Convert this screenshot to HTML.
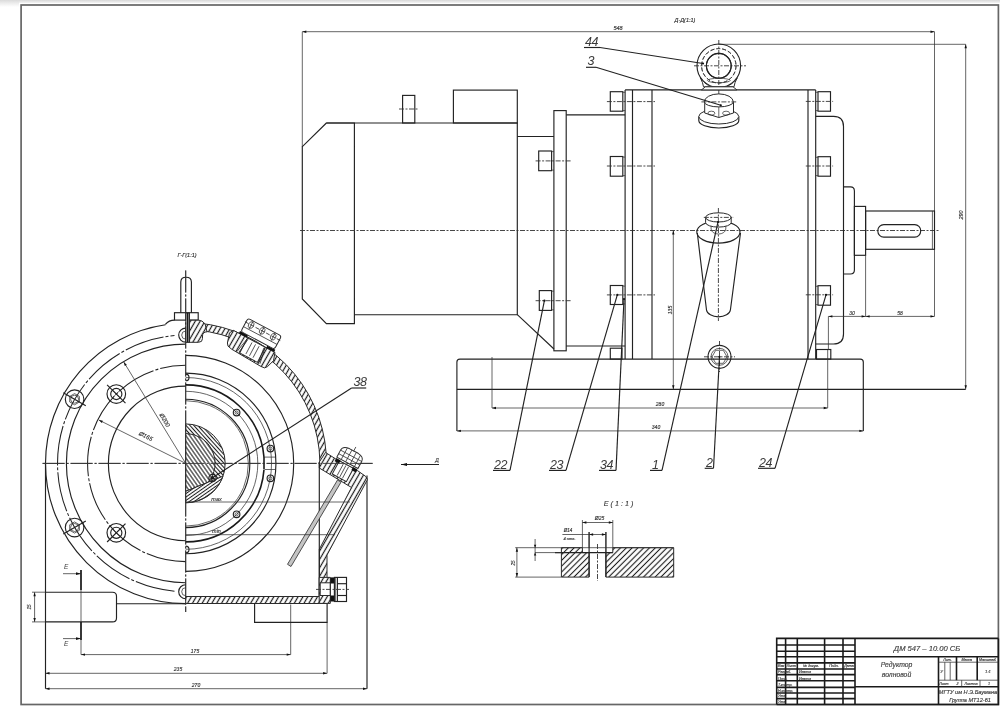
<!DOCTYPE html>
<html><head><meta charset="utf-8"><style>
html,body{margin:0;padding:0;background:#fff;overflow:hidden}
svg{display:block;will-change:transform}
.m{stroke:#222;stroke-width:1.15;fill:none}
.t{stroke:#333;stroke-width:0.75;fill:none}
.k{stroke:#1a1a1a;stroke-width:1.6;fill:none}
.c{stroke:#333;stroke-width:0.9;fill:none;stroke-dasharray:5 1.5 2 1.5}
.cl{stroke:#333;stroke-width:0.9;fill:none;stroke-dasharray:22 2 2 2}
.ca{stroke:#222;stroke-width:1.05;fill:none;stroke-dasharray:40 2 3 2}
.d{stroke:#333;stroke-width:0.8;fill:none;stroke-dasharray:4 2}
.w{stroke:#2a2a2a;stroke-width:1;fill:#fff}
.f{fill:#111;stroke:none}
.h{stroke:#2a2a2a;stroke-width:1;fill:url(#hp)}
.he{stroke:#2a2a2a;stroke-width:1;fill:url(#hpe)}
.h3{stroke:#2a2a2a;stroke-width:1;fill:url(#hp3)}
.h4{stroke:#2a2a2a;stroke-width:1;fill:url(#hp4)}
.h5{stroke:#2a2a2a;stroke-width:1;fill:url(#hp5)}
.fr{stroke:#666;stroke-width:1.7;fill:none}
text{font-family:"Liberation Sans",sans-serif;font-style:italic;fill:#333;stroke:#333;stroke-width:0.15}
.lb{fill:#3a3a3a;letter-spacing:-0.4px;stroke:none}
.tb{fill:#444}
.ts{fill:#444}
</style></head><body>
<svg width="1000" height="709" viewBox="0 0 1000 709">
<defs>
<linearGradient id="topg" x1="0" y1="0" x2="0" y2="1"><stop offset="0" stop-color="#d8d8d8"/><stop offset="1" stop-color="#f4f4f4"/></linearGradient>
<pattern id="hp" patternUnits="userSpaceOnUse" width="4.2" height="4.2" patternTransform="rotate(30)"><rect width="4.2" height="4.2" fill="#fff"/><line x1="2.1" y1="0" x2="2.1" y2="4.2" stroke="#1a1a1a" stroke-width="1.2"/></pattern>
<pattern id="hp3" patternUnits="userSpaceOnUse" width="2.9" height="2.9" patternTransform="rotate(-42)"><rect width="2.9" height="2.9" fill="#fff"/><line x1="1.45" y1="0" x2="1.45" y2="2.9" stroke="#1a1a1a" stroke-width="1.05"/></pattern>
<pattern id="hp4" patternUnits="userSpaceOnUse" width="3.2" height="3.2" patternTransform="rotate(-35)"><rect width="3.2" height="3.2" fill="#fff"/><line x1="1.6" y1="0" x2="1.6" y2="3.2" stroke="#1a1a1a" stroke-width="1.05"/></pattern>
<pattern id="hp5" patternUnits="userSpaceOnUse" width="2.8" height="2.8" patternTransform="rotate(55)"><rect width="2.8" height="2.8" fill="#fff"/><line x1="1.4" y1="0" x2="1.4" y2="2.8" stroke="#1a1a1a" stroke-width="1.0"/></pattern>
<pattern id="hpe" patternUnits="userSpaceOnUse" width="4.1" height="4.1" patternTransform="rotate(45)"><rect width="4.1" height="4.1" fill="#fff"/><line x1="2.05" y1="0" x2="2.05" y2="4.1" stroke="#1a1a1a" stroke-width="1.1"/></pattern>
<linearGradient id="topg2" x1="0" y1="0" x2="0" y2="1"><stop offset="0" stop-color="#dadada"/><stop offset="0.5" stop-color="#eeeeee"/><stop offset="1" stop-color="#ffffff"/></linearGradient>
</defs>
<rect x="0" y="0" width="1000" height="3" fill="url(#topg)" stroke="none"/>
<rect x="0" y="0" width="19" height="7" fill="url(#topg2)" stroke="none"/>
<rect class="fr" x="21.1" y="5" width="977.3" height="699.5"/>
<line class="t" x1="302.3" y1="31.7" x2="934.5" y2="31.7"/>
<path class="f" d="M302.3,31.7 L306.3,30.5 L306.3,32.9Z"/>
<path class="f" d="M934.5,31.7 L930.5,32.9 L930.5,30.5Z"/>
<line class="t" x1="302.3" y1="31.7" x2="302.3" y2="147.0"/>
<line class="t" x1="934.5" y1="31.7" x2="934.5" y2="316.4"/>
<text class="tx" x="618" y="29.5" font-size="5.5" text-anchor="middle">548</text>
<text class="tx" x="685" y="22" font-size="5.5" text-anchor="middle">Д-Д(1:1)</text>
<line class="t" x1="719.0" y1="44.3" x2="965.7" y2="44.3"/>
<line class="t" x1="965.7" y1="44.3" x2="965.7" y2="389.3"/>
<path class="f" d="M965.7,44.3 L966.9,48.3 L964.5,48.3Z"/>
<path class="f" d="M965.7,389.3 L964.5,385.3 L966.9,385.3Z"/>
<text class="tx" x="963" y="215" font-size="5.5" text-anchor="middle" transform="rotate(-90 963 215)">290</text>
<path class="m" d="M326.4,123 L302.3,146.7 L302.3,299 L326.4,323.6 L354.4,323.6 L354.4,123 Z"/>
<path class="m" d="M326.4,123 H517.3 V314.7 H354.4"/>
<rect class="m" x="402.6" y="95.4" width="12.2" height="27.6" rx="0"/>
<line class="c" x1="399.0" y1="109.0" x2="418.0" y2="109.0"/>
<rect class="m" x="453.4" y="90.1" width="63.9" height="32.9" rx="0"/>
<line class="m" x1="517.3" y1="136.5" x2="553.9" y2="136.5"/>
<line class="m" x1="517.3" y1="314.7" x2="554.0" y2="349.0"/>
<rect class="m" x="553.9" y="110.6" width="12.3" height="240.2" rx="0"/>
<line class="m" x1="566.2" y1="114.8" x2="625.1" y2="114.8"/>
<line class="m" x1="566.2" y1="346.0" x2="625.1" y2="346.0"/>
<line class="c" x1="300.0" y1="230.5" x2="940.0" y2="230.5"/>
<line class="m" x1="625.1" y1="89.9" x2="815.7" y2="89.9"/>
<line class="m" x1="625.1" y1="89.9" x2="625.1" y2="359.1"/>
<line class="m" x1="632.5" y1="89.9" x2="632.5" y2="359.1"/>
<line class="m" x1="652.0" y1="89.9" x2="652.0" y2="359.1"/>
<line class="m" x1="808.0" y1="89.9" x2="808.0" y2="359.1"/>
<line class="m" x1="815.7" y1="89.9" x2="815.7" y2="359.1"/>
<path class="m" d="M815.7,116.4 H833.5 Q843.5,116.4 843.5,126.4 V334 Q843.5,344 833.5,344 H815.7"/>
<path class="m" d="M843.5,186.9 H850.4 Q854.4,186.9 854.4,190.9 V270 Q854.4,274 850.4,274 H843.5"/>
<rect class="m" x="854.4" y="206.4" width="11.2" height="48.9" rx="0"/>
<rect class="m" x="865.6" y="211.0" width="68.9" height="38.3" rx="0"/>
<line class="t" x1="932.4" y1="211.0" x2="932.4" y2="249.3"/>
<rect class="m" x="877.8" y="224.6" width="42.9" height="12.5" rx="6"/>
<rect class="m" x="610.3" y="91.7" width="12.5" height="19.5" rx="0"/>
<line class="t" x1="622.8" y1="92.3" x2="625.1" y2="92.3"/>
<line class="t" x1="622.8" y1="110.6" x2="625.1" y2="110.6"/>
<line class="c" x1="606.9" y1="101.6" x2="655.0" y2="101.6"/>
<rect class="m" x="610.3" y="156.5" width="12.5" height="19.7" rx="0"/>
<line class="t" x1="622.8" y1="157.1" x2="625.1" y2="157.1"/>
<line class="t" x1="622.8" y1="175.6" x2="625.1" y2="175.6"/>
<line class="c" x1="606.9" y1="166.0" x2="655.0" y2="166.0"/>
<rect class="m" x="610.3" y="285.5" width="12.5" height="19.0" rx="0"/>
<line class="t" x1="622.8" y1="286.1" x2="625.1" y2="286.1"/>
<line class="t" x1="622.8" y1="303.9" x2="625.1" y2="303.9"/>
<line class="c" x1="606.9" y1="294.9" x2="655.0" y2="294.9"/>
<rect class="m" x="538.7" y="151.0" width="12.9" height="19.7" rx="0"/>
<line class="t" x1="551.6" y1="151.6" x2="553.9" y2="151.6"/>
<line class="t" x1="551.6" y1="170.1" x2="553.9" y2="170.1"/>
<line class="c" x1="535.6" y1="160.9" x2="570.8" y2="160.9"/>
<rect class="m" x="539.3" y="290.6" width="12.3" height="19.8" rx="0"/>
<line class="t" x1="551.6" y1="291.2" x2="553.9" y2="291.2"/>
<line class="t" x1="551.6" y1="309.8" x2="553.9" y2="309.8"/>
<line class="c" x1="535.6" y1="300.7" x2="570.8" y2="300.7"/>
<rect class="m" x="818.0" y="91.7" width="12.5" height="19.5" rx="0"/>
<line class="t" x1="815.7" y1="92.3" x2="818.0" y2="92.3"/>
<line class="t" x1="815.7" y1="110.6" x2="818.0" y2="110.6"/>
<line class="c" x1="805.8" y1="101.4" x2="833.1" y2="101.4"/>
<rect class="m" x="818.0" y="156.7" width="12.5" height="19.5" rx="0"/>
<line class="t" x1="815.7" y1="157.3" x2="818.0" y2="157.3"/>
<line class="t" x1="815.7" y1="175.6" x2="818.0" y2="175.6"/>
<line class="c" x1="805.8" y1="166.0" x2="833.1" y2="166.0"/>
<rect class="m" x="818.0" y="285.7" width="12.5" height="19.5" rx="0"/>
<line class="t" x1="815.7" y1="286.3" x2="818.0" y2="286.3"/>
<line class="t" x1="815.7" y1="304.6" x2="818.0" y2="304.6"/>
<line class="c" x1="805.8" y1="294.8" x2="833.1" y2="294.8"/>
<rect class="m" x="610.3" y="348.2" width="11.7" height="10.9" rx="0"/>
<rect class="m" x="816.5" y="349.5" width="14.3" height="9.6" rx="0"/>
<path class="m" d="M456.9,431 V362.1 Q456.9,359.1 459.9,359.1 H860.3 Q863.3,359.1 863.3,362.1 V431"/>
<line class="m" x1="456.9" y1="389.3" x2="965.7" y2="389.3"/>
<line class="t" x1="492.0" y1="408.0" x2="827.7" y2="408.0"/>
<path class="f" d="M492.0,408.0 L496.0,406.8 L496.0,409.2Z"/>
<path class="f" d="M827.7,408.0 L823.7,409.2 L823.7,406.8Z"/>
<line class="t" x1="492.0" y1="357.0" x2="492.0" y2="408.0"/>
<line class="t" x1="827.7" y1="350.0" x2="827.7" y2="408.0"/>
<text class="tx" x="660" y="406" font-size="5" text-anchor="middle">280</text>
<line class="t" x1="456.9" y1="430.9" x2="863.3" y2="430.9"/>
<path class="f" d="M456.9,430.9 L460.9,429.7 L460.9,432.1Z"/>
<path class="f" d="M863.3,430.9 L859.3,432.1 L859.3,429.7Z"/>
<text class="tx" x="656" y="428.5" font-size="5" text-anchor="middle">340</text>
<line class="t" x1="673.3" y1="230.5" x2="673.3" y2="389.3"/>
<path class="f" d="M673.3,230.5 L674.5,234.5 L672.1,234.5Z"/>
<path class="f" d="M673.3,389.3 L672.1,385.3 L674.5,385.3Z"/>
<text class="tx" x="671.5" y="310" font-size="5" text-anchor="middle" transform="rotate(-90 671.5 310)">135</text>
<line class="t" x1="828.4" y1="316.4" x2="934.5" y2="316.4"/>
<path class="f" d="M828.4,316.4 L832.4,315.2 L832.4,317.6Z"/>
<path class="f" d="M865.6,316.4 L861.6,317.6 L861.6,315.2Z"/>
<path class="f" d="M865.6,316.4 L869.6,315.2 L869.6,317.6Z"/>
<path class="f" d="M934.5,316.4 L930.5,317.6 L930.5,315.2Z"/>
<line class="t" x1="865.6" y1="255.3" x2="865.6" y2="316.4"/>
<line class="t" x1="828.4" y1="316.4" x2="828.4" y2="350.0"/>
<text class="tx" x="852" y="314.5" font-size="5" text-anchor="middle">30</text>
<text class="tx" x="900" y="314.5" font-size="5" text-anchor="middle">58</text>
<circle class="m" cx="718.8" cy="65.8" r="21.8"/>
<circle class="m" cx="718.8" cy="65.8" r="12.4"/>
<circle class="d" cx="718.8" cy="65.8" r="17.2"/>
<line class="c" x1="718.8" y1="40.0" x2="718.8" y2="112.0"/>
<line class="c" x1="694.0" y1="65.8" x2="746.0" y2="65.8"/>
<path class="w" d="M700.5,78 Q703,83 703.5,86.8 H734 Q734.5,83 737.1,78 A21.75,21.75 0 0 1 700.5,78 Z"/>
<circle class="m" cx="718.8" cy="65.8" r="12.4"/>
<circle class="d" cx="718.8" cy="65.8" r="17.2"/>
<ellipse class="t" cx="718.8" cy="80.5" rx="11.4" ry="2.2"/>
<path class="w" d="M701.4,89.9 L705.5,86.8 H733 L736.9,89.9 Z"/>
<path class="m" d="M698.8,116.5 V120.5 A20,7.5 0 0 0 738.8,120.5 V116.5"/>
<ellipse class="w" cx="718.8" cy="116.5" rx="20.0" ry="7.5"/>
<path class="w" d="M704.7,101.9 V113 L718.8,117.5 L733.5,113 V101.9"/>
<line class="t" x1="718.8" y1="104.0" x2="718.8" y2="117.5"/>
<ellipse class="t" cx="711.4" cy="113.2" rx="3.5" ry="2.0"/>
<ellipse class="t" cx="726.1" cy="113.2" rx="3.5" ry="2.0"/>
<path class="w" d="M704.3,101.9 A14.5,8 0 0 1 733.3,101.9 A14.5,5 0 0 1 704.3,101.9 Z"/>
<line class="c" x1="701.4" y1="101.9" x2="736.2" y2="101.9"/>
<path class="m" d="M697.3,233 L706.5,310 A12,7.5 0 0 0 730.4,310 L740.5,233"/>
<ellipse class="m" cx="718.4" cy="232.1" rx="21.6" ry="11.0"/>
<path class="t" d="M711.1,224 V229 A7.3,5 0 0 0 725.8,229 V224"/>
<path class="w" d="M705.6,217.4 V222.5 A12.8,4.6 0 0 0 731.2,222.5 V217.4"/>
<ellipse class="w" cx="718.4" cy="217.4" rx="12.8" ry="4.6"/>
<line class="c" x1="718.4" y1="208.0" x2="718.4" y2="321.0"/>
<line class="c" x1="703.8" y1="217.4" x2="734.0" y2="217.4"/>
<circle class="m" cx="719.5" cy="356.8" r="11.5"/>
<circle class="t" cx="719.5" cy="356.8" r="8.5"/>
<path class="t" d="M712,356.8 L715.7,350.3 H723.3 L727,356.8 L723.3,363.3 H715.7 Z"/>
<line class="c" x1="704.0" y1="356.8" x2="735.0" y2="356.8"/>
<line class="c" x1="719.5" y1="341.0" x2="719.5" y2="372.0"/>
<text class="lb" x="585" y="45.5" font-size="12.5" text-anchor="start">44</text>
<line class="m" x1="584.0" y1="47.5" x2="600.0" y2="47.5"/>
<line class="m" x1="600.0" y1="47.5" x2="703.0" y2="63.5"/>
<circle class="f" cx="703.0" cy="63.5" r="1.1"/>
<text class="lb" x="587.5" y="65" font-size="12.5" text-anchor="start">3</text>
<line class="m" x1="586.0" y1="67.3" x2="596.0" y2="67.3"/>
<line class="m" x1="596.0" y1="67.3" x2="720.8" y2="105.3"/>
<circle class="f" cx="720.8" cy="105.3" r="1.1"/>
<text class="lb" x="494" y="468.5" font-size="12.5" text-anchor="start">22</text>
<line class="m" x1="493.0" y1="470.4" x2="510.0" y2="470.4"/>
<line class="m" x1="510.0" y1="470.4" x2="544.4" y2="300.7"/>
<circle class="f" cx="544.4" cy="300.7" r="1.1"/>
<text class="lb" x="550" y="468.5" font-size="12.5" text-anchor="start">23</text>
<line class="m" x1="549.0" y1="470.4" x2="566.0" y2="470.4"/>
<line class="m" x1="566.0" y1="470.4" x2="617.3" y2="294.9"/>
<circle class="f" cx="617.3" cy="294.9" r="1.1"/>
<text class="lb" x="600" y="468.5" font-size="12.5" text-anchor="start">34</text>
<line class="m" x1="599.0" y1="470.4" x2="616.0" y2="470.4"/>
<line class="m" x1="616.0" y1="470.4" x2="624.0" y2="299.0"/>
<circle class="f" cx="624.0" cy="299.0" r="1.1"/>
<text class="lb" x="652" y="468.5" font-size="12.5" text-anchor="start">1</text>
<line class="m" x1="650.0" y1="470.4" x2="662.0" y2="470.4"/>
<line class="m" x1="662.0" y1="470.4" x2="718.0" y2="222.0"/>
<circle class="f" cx="718.0" cy="222.0" r="1.1"/>
<text class="lb" x="706" y="467" font-size="12.5" text-anchor="start">2</text>
<line class="m" x1="704.7" y1="468.3" x2="713.5" y2="468.3"/>
<line class="m" x1="713.5" y1="468.3" x2="719.5" y2="356.8"/>
<circle class="f" cx="719.5" cy="356.8" r="1.1"/>
<text class="lb" x="759" y="467" font-size="12.5" text-anchor="start">24</text>
<line class="m" x1="758.0" y1="468.3" x2="775.0" y2="468.3"/>
<line class="m" x1="775.0" y1="468.3" x2="826.0" y2="294.8"/>
<circle class="f" cx="826.0" cy="294.8" r="1.1"/>
<line class="m" x1="401.0" y1="464.5" x2="439.0" y2="464.5"/>
<path class="f" d="M401.0,464.5 L407.0,462.9 L407.0,466.1Z"/>
<text class="tx" x="437" y="461.5" font-size="5" text-anchor="middle">Д</text>
<text class="tx" x="187" y="256.5" font-size="5.5" text-anchor="middle">Г-Г(1:1)</text>
<line class="cl" x1="185.7" y1="270.5" x2="185.7" y2="612.0"/>
<line class="cl" x1="42.6" y1="463.4" x2="374.0" y2="463.4"/>
<path class="m" d="M180.8,312.7 V282 Q180.8,277.2 186,277.2 Q191.4,277.2 191.4,282 V312.7"/>
<rect class="m" x="174.5" y="312.7" width="23.7" height="7.4" rx="0"/>
<path class="m" d="M45.5,463.4 A140.2,140.2 0 0 1 165.5,324.7"/>
<path class="m" d="M185.7,603.6 A140.2,140.2 0 0 1 45.5,463.4"/>
<path class="ca" d="M174.5,591.2 A128.3,128.3 0 0 1 174.5,335.6"/>
<path class="m" d="M185.7,582.7 A119.3,119.3 0 0 1 185.7,344.1"/>
<path class="ca" d="M185.7,561.6 A98.2,98.2 0 0 1 185.7,365.2"/>
<path class="m" d="M185.7,540.7 A77.3,77.3 0 0 1 185.7,386.1"/>
<path class="m" d="M165.4,324.3 Q169,320.1 174.5,320.1"/>
<line class="m" x1="45.5" y1="463.4" x2="45.5" y2="688.7"/>
<circle class="m" cx="74.6" cy="399.2" r="9.3"/>
<path class="t" d="M69.7,396.4 L74.6,393.6 L79.4,396.4 L79.4,402.0 L74.6,404.8 L69.7,402.0 Z"/>
<circle class="t" cx="74.6" cy="399.2" r="4.0"/>
<line class="m" x1="63.3" y1="392.7" x2="85.8" y2="405.7"/>
<circle class="m" cx="74.6" cy="527.5" r="9.3"/>
<path class="t" d="M69.7,530.3 L69.7,524.8 L74.6,521.9 L79.4,524.8 L79.4,530.3 L74.6,533.1 Z"/>
<circle class="t" cx="74.6" cy="527.5" r="4.0"/>
<line class="m" x1="63.3" y1="534.0" x2="85.8" y2="521.0"/>
<circle class="m" cx="116.3" cy="394.0" r="9.3"/>
<circle class="m" cx="116.3" cy="394.0" r="5.6"/>
<line class="t" x1="112.4" y1="390.1" x2="120.2" y2="397.9"/>
<line class="t" x1="112.4" y1="397.9" x2="120.2" y2="390.1"/>
<line class="m" x1="107.1" y1="384.8" x2="125.5" y2="403.2"/>
<circle class="m" cx="116.3" cy="532.8" r="9.3"/>
<circle class="m" cx="116.3" cy="532.8" r="5.6"/>
<line class="t" x1="112.4" y1="528.9" x2="120.2" y2="536.7"/>
<line class="t" x1="112.4" y1="536.7" x2="120.2" y2="528.9"/>
<line class="m" x1="107.1" y1="542.0" x2="125.5" y2="523.6"/>
<path class="m" d="M185.7,328.09999999999997 A7,7 0 0 0 185.7,342.09999999999997"/>
<path class="t" d="M185.7,331.09999999999997 A4,4 0 0 0 185.7,339.09999999999997"/>
<path class="m" d="M185.7,584.7 A7,7 0 0 0 185.7,598.7"/>
<path class="t" d="M185.7,587.7 A4,4 0 0 0 185.7,595.7"/>
<line class="t" x1="185.7" y1="463.4" x2="123.7" y2="361.9"/>
<path class="f" d="M123.7,361.9 L126.8,364.7 L124.8,365.9Z"/>
<text class="tx" x="163" y="421" font-size="6" text-anchor="middle" transform="rotate(60 163 421)">Ø200</text>
<line class="t" x1="185.7" y1="463.4" x2="98.8" y2="420.0"/>
<path class="f" d="M98.8,420.0 L102.9,420.7 L101.8,422.9Z"/>
<text class="tx" x="145" y="438" font-size="6" text-anchor="middle" transform="rotate(27 145 438)">Ø165</text>
<path class="m" d="M45.5,592.2 H112.5 Q116.5,592.2 116.5,596.2 V617.9 Q116.5,621.9 112.5,621.9 H45.5"/>
<path class="m" d="M116.5,603.7 H186"/>
<line class="t" x1="34.6" y1="592.2" x2="34.6" y2="621.9"/>
<path class="f" d="M34.6,592.2 L35.8,596.2 L33.4,596.2Z"/>
<path class="f" d="M34.6,621.9 L33.4,617.9 L35.8,617.9Z"/>
<line class="t" x1="32.0" y1="592.2" x2="45.5" y2="592.2"/>
<line class="t" x1="32.0" y1="621.9" x2="45.5" y2="621.9"/>
<text class="tx" x="31" y="607" font-size="4.5" text-anchor="middle" transform="rotate(-90 31 607)">15</text>
<line class="t" x1="81.0" y1="570.0" x2="81.0" y2="654.6"/>
<path class="k" d="M81,570 V590"/>
<path class="k" d="M81,622 V640"/>
<line class="t" x1="63.0" y1="573.7" x2="81.0" y2="573.7"/>
<path class="f" d="M81.0,573.7 L76.0,575.1 L76.0,572.3Z"/>
<line class="t" x1="63.0" y1="638.6" x2="81.0" y2="638.6"/>
<path class="f" d="M81.0,638.6 L76.0,640.0 L76.0,637.2Z"/>
<text class="lb" x="66" y="569" font-size="6.5" text-anchor="middle">E</text>
<text class="lb" x="66" y="646" font-size="6.5" text-anchor="middle">E</text>
<line class="t" x1="81.0" y1="654.6" x2="290.7" y2="654.6"/>
<path class="f" d="M81.0,654.6 L85.0,653.4 L85.0,655.8Z"/>
<path class="f" d="M290.7,654.6 L286.7,655.8 L286.7,653.4Z"/>
<line class="t" x1="290.7" y1="604.5" x2="290.7" y2="654.6"/>
<text class="tx" x="195" y="652.5" font-size="5" text-anchor="middle">175</text>
<line class="t" x1="45.5" y1="673.3" x2="327.1" y2="673.3"/>
<path class="f" d="M45.5,673.3 L49.5,672.1 L49.5,674.5Z"/>
<path class="f" d="M327.1,673.3 L323.1,674.5 L323.1,672.1Z"/>
<text class="tx" x="178" y="671" font-size="5" text-anchor="middle">235</text>
<line class="t" x1="45.5" y1="688.7" x2="367.0" y2="688.7"/>
<path class="f" d="M45.5,688.7 L49.5,687.5 L49.5,689.9Z"/>
<path class="f" d="M367.0,688.7 L363.0,689.9 L363.0,687.5Z"/>
<text class="tx" x="196" y="686.5" font-size="5" text-anchor="middle">270</text>
<line class="t" x1="327.1" y1="622.4" x2="327.1" y2="673.3"/>
<line class="m" x1="367.0" y1="475.5" x2="367.0" y2="688.7"/>
<path class="h" d="M198.0,323.1 A140.8,140.8 0 0 1 326.2,453.6 L319.9,461.9 A134.2,134.2 0 0 0 197.4,330.3 Z"/>
<path class="h" d="M325.5,452.5 L335.4,458.7 L357.4,470.5 L365.8,476.5 L367.5,479.5 L327,555 L327,597 L319.3,597 L319.3,549.3 L351.5,487.5 L319.3,468 L319.3,462 Z"/>
<line class="m" x1="319.3" y1="462.0" x2="319.3" y2="597.0"/>
<g transform="translate(346.4,464.6) rotate(28.2)">
<rect class="w" x="-8" y="0" width="16" height="15"/>
<line class="t" x1="-3.0" y1="1.0" x2="-3.0" y2="14.0"/>
<line class="t" x1="3.0" y1="1.0" x2="3.0" y2="14.0"/>
<line class="t" x1="0.0" y1="1.0" x2="0.0" y2="14.0"/>
<rect x="-12" y="-1" width="5" height="3.5" fill="#111"/><rect x="7" y="-1" width="5" height="3.5" fill="#111"/>
<path class="w" d="M-12,-2 V-10 Q-12,-15 -5,-15.5 H5 Q12,-15 12,-10 V-2 Z"/>
<path class="t" d="M-12,-6 H12 M-12,-10 H12 M-7,-15 V-2 M-2,-15.5 V-2 M3,-15.5 V-2 M8,-15 V-2"/>
<line class="t" x1="0.0" y1="-20.0" x2="0.0" y2="-15.0"/>
</g>
<path d="M337.5,480 L341,482.2 L291,566.5 L287.5,564.3 Z" fill="#c4c4c4" stroke="#2a2a2a" stroke-width="0.8"/>
<path class="h" d="M186,320.2 H199 Q202,320.2 205,323.8 L207,331.8 Q202.5,332 202.5,336 V338.5 Q202.5,342.3 198.5,342.3 H186 Z"/>
<rect class="w" x="186" y="313" width="3.5" height="29.3"/>
<line class="k" x1="187.8" y1="313.0" x2="187.8" y2="342.0"/>
<path class="h" d="M237.1,332.3 L233.5,330.4 L229.5,332.8 L227.4,343.0 L228.0,346.1 L231.5,349.1 L260.8,366.4 L264.6,367.9 L267.5,366.6 L273.5,360.7 L275.0,352.5 Z"/>
<g transform="translate(256.5,342.6) rotate(28)">
<rect class="w" x="-10" y="0" width="20" height="17"/>
<line class="t" x1="-4.0" y1="2.0" x2="-4.0" y2="15.0"/>
<line class="t" x1="0.0" y1="2.0" x2="0.0" y2="15.0"/>
<line class="t" x1="4.0" y1="2.0" x2="4.0" y2="15.0"/>
<path d="M-10,1 L-13,17 M10,1 L13,17 M-9,1 L-11,17 M9,1 L11,17" stroke="#222" stroke-width="0.7"/>
<rect x="-20" y="-2.5" width="9" height="2.5" fill="#111"/><rect x="11" y="-2.5" width="9" height="2.5" fill="#111"/>
<rect class="w" x="-19" y="-17.5" width="38" height="15" rx="2.5"/>
<line class="t" x1="-19.0" y1="-8.0" x2="19.0" y2="-8.0"/>
<ellipse class="t" cx="-13.0" cy="-13.0" rx="2.6" ry="3.4"/>
<line class="t" x1="-13.0" y1="-17.5" x2="-13.0" y2="-8.5"/>
<ellipse class="t" cx="-0.5" cy="-13.0" rx="2.6" ry="3.4"/>
<line class="t" x1="-0.5" y1="-17.5" x2="-0.5" y2="-8.5"/>
<ellipse class="t" cx="12.0" cy="-13.0" rx="2.6" ry="3.4"/>
<line class="t" x1="12.0" y1="-17.5" x2="12.0" y2="-8.5"/>
<line class="d" x1="-20.0" y1="-13.0" x2="20.0" y2="-13.0"/>
</g>
<path class="m" d="M185.7,355.4 A108,108 0 0 1 185.7,571.4"/>
<path class="m" d="M185.7,373.1 A90.3,90.3 0 0 1 185.7,553.7"/>
<path class="t" d="M185.7,377.5 A85.9,85.9 0 0 1 185.7,549.3"/>
<path class="k" d="M185.7,384.9 A78.5,78.5 0 0 1 264.0,457.2"/>
<path class="k" d="M264.0,469.6 A78.5,78.5 0 0 1 185.7,541.9"/>
<line class="k" x1="264.0" y1="457.0" x2="264.0" y2="469.0"/>
<path class="t" d="M185.7,391.3 A72.1,72.1 0 0 1 185.7,535.5"/>
<path class="m" d="M185.7,399.2 A64.2,64.2 0 0 1 185.7,527.6"/>
<path class="t" d="M185.7,400.7 A62.7,62.7 0 0 1 185.7,526.1"/>
<circle class="m" cx="236.6" cy="412.5" r="3.3"/>
<circle class="t" cx="236.6" cy="412.5" r="1.6"/>
<circle class="m" cx="236.6" cy="514.3" r="3.3"/>
<circle class="t" cx="236.6" cy="514.3" r="1.6"/>
<circle class="m" cx="270.4" cy="448.5" r="3.3"/>
<circle class="t" cx="270.4" cy="448.5" r="1.6"/>
<circle class="m" cx="270.4" cy="478.3" r="3.3"/>
<circle class="t" cx="270.4" cy="478.3" r="1.6"/>
<path class="m" d="M185.7,374.09999999999997 A3.3,3.3 0 0 1 185.7,380.7"/>
<path class="m" d="M185.7,546.1 A3.3,3.3 0 0 1 185.7,552.6999999999999"/>
<line class="t" x1="264.5" y1="457.1" x2="275.5" y2="457.1"/>
<line class="t" x1="264.5" y1="469.5" x2="275.5" y2="469.5"/>
<path class="h3" d="M185.7,423.9 A39.5,39.5 0 0 1 185.7,502.9 Z"/>
<path class="h4" d="M185.7,433.5 A29.5,29.5 0 0 1 208,482.3 L185.7,491.3 Z"/>
<path class="h5" d="M185.7,491.3 L222.9,476.2 A39.5,39.5 0 0 1 185.7,502.5 Z"/>
<line class="t" x1="186.0" y1="502.0" x2="350.0" y2="502.0"/>
<line class="t" x1="186.0" y1="534.7" x2="335.0" y2="534.7"/>
<text class="tx" x="216.5" y="500.5" font-size="5.5" text-anchor="middle">max</text>
<text class="tx" x="216.5" y="532.8" font-size="5.5" text-anchor="middle">min</text>
<path class="h" d="M185.7,596.5 H327 V603.5 H185.7 Z"/>
<path class="m" d="M254.6,603.5 V622.4 H327.1 V603.5"/>
<path class="h" d="M319.2,577.4 H330.3 V603.4 H319.2 Z"/>
<rect class="w" x="320.2" y="582.8" width="10.1" height="12.7"/>
<rect x="330.3" y="577.4" width="4.1" height="6.1" fill="#111"/><rect x="330.3" y="595.5" width="4.1" height="6" fill="#111"/>
<line class="t" x1="330.3" y1="583.5" x2="330.3" y2="595.5"/>
<rect class="m" x="334.4" y="577.4" width="12.1" height="24.1" rx="0"/>
<line class="t" x1="335.6" y1="577.4" x2="335.6" y2="601.5"/>
<line class="m" x1="337.4" y1="577.4" x2="337.4" y2="601.5"/>
<line class="m" x1="337.4" y1="583.7" x2="346.5" y2="583.7"/>
<line class="m" x1="337.4" y1="595.5" x2="346.5" y2="595.5"/>
<line class="c" x1="316.0" y1="589.4" x2="349.0" y2="589.4"/>
<line class="cl" x1="185.7" y1="270.5" x2="185.7" y2="612.0"/>
<line class="cl" x1="42.6" y1="463.4" x2="374.0" y2="463.4"/>
<circle class="m" cx="212.5" cy="478.0" r="3.6"/>
<circle class="f" cx="212.5" cy="478.0" r="1.6"/>
<text class="lb" x="353.5" y="386" font-size="12.5" text-anchor="start">38</text>
<line class="m" x1="351.6" y1="388.0" x2="366.2" y2="388.0"/>
<line class="m" x1="351.6" y1="388.0" x2="211.7" y2="478.2"/>
<text class="tb" x="618.5" y="506" font-size="7.2" text-anchor="middle">E ( 1 : 1 )</text>
<path class="he" d="M561.4,547.7 H582.4 V552.6 H589.1 V577.1 H561.4 Z"/>
<path class="he" d="M605.9,577.1 V552.6 H612.8 V547.7 H673.7 V577.1 Z"/>
<line class="t" x1="561.4" y1="547.7" x2="673.7" y2="547.7"/>
<line class="m" x1="555.0" y1="552.6" x2="612.8" y2="552.6"/>
<line class="m" x1="589.1" y1="532.0" x2="589.1" y2="577.1"/>
<line class="m" x1="605.9" y1="532.0" x2="605.9" y2="577.1"/>
<line class="t" x1="515.2" y1="547.7" x2="561.4" y2="547.7"/>
<line class="t" x1="515.2" y1="577.1" x2="561.4" y2="577.1"/>
<line class="t" x1="535.0" y1="552.6" x2="561.4" y2="552.6"/>
<line class="c" x1="597.5" y1="544.0" x2="597.5" y2="581.0"/>
<line class="t" x1="516.9" y1="547.7" x2="516.9" y2="577.1"/>
<path class="f" d="M516.9,547.7 L518.1,551.7 L515.7,551.7Z"/>
<path class="f" d="M516.9,577.1 L515.7,573.1 L518.1,573.1Z"/>
<text class="tx" x="514.5" y="563" font-size="4.5" text-anchor="middle" transform="rotate(-90 514.5 563)">25</text>
<line class="t" x1="535.1" y1="539.0" x2="535.1" y2="561.0"/>
<path class="f" d="M535.1,547.7 L533.9,544.7 L536.3,544.7Z"/>
<path class="f" d="M535.1,552.6 L536.3,555.6 L533.9,555.6Z"/>
<line class="t" x1="582.4" y1="520.0" x2="582.4" y2="547.7"/>
<line class="t" x1="612.8" y1="520.0" x2="612.8" y2="547.7"/>
<line class="t" x1="582.4" y1="522.5" x2="612.8" y2="522.5"/>
<path class="f" d="M582.4,522.5 L586.4,521.3 L586.4,523.7Z"/>
<path class="f" d="M612.8,522.5 L608.8,523.7 L608.8,521.3Z"/>
<text class="tx" x="599.5" y="520" font-size="5" text-anchor="middle">Ø25</text>
<line class="t" x1="589.1" y1="532.0" x2="589.1" y2="547.7"/>
<line class="t" x1="605.9" y1="532.0" x2="605.9" y2="552.6"/>
<line class="t" x1="562.4" y1="534.5" x2="605.9" y2="534.5"/>
<path class="f" d="M589.1,534.5 L593.1,533.3 L593.1,535.7Z"/>
<path class="f" d="M605.9,534.5 L601.9,535.7 L601.9,533.3Z"/>
<text class="tx" x="568" y="532" font-size="4.5" text-anchor="middle">Ø14</text>
<text class="tx" x="569.5" y="539.5" font-size="4" text-anchor="middle">4 отв.</text>
<path class="k" d="M776.7,704.5 V638.4 H998.4"/>
<path class="k" d="M776.7,704.5 H998.4 V638.4"/>
<line class="k" x1="785.6" y1="638.4" x2="785.6" y2="704.5"/>
<line class="k" x1="797.3" y1="638.4" x2="797.3" y2="704.5"/>
<line class="k" x1="824.6" y1="638.4" x2="824.6" y2="704.5"/>
<line class="k" x1="843.0" y1="638.4" x2="843.0" y2="704.5"/>
<line class="k" x1="855.0" y1="638.4" x2="855.0" y2="704.5"/>
<line class="k" x1="776.7" y1="645.0" x2="855.0" y2="645.0"/>
<line class="k" x1="776.7" y1="651.2" x2="855.0" y2="651.2"/>
<line class="k" x1="776.7" y1="656.8" x2="855.0" y2="656.8"/>
<line class="k" x1="776.7" y1="662.9" x2="855.0" y2="662.9"/>
<line class="k" x1="776.7" y1="669.0" x2="855.0" y2="669.0"/>
<line class="k" x1="776.7" y1="674.6" x2="855.0" y2="674.6"/>
<line class="k" x1="776.7" y1="680.7" x2="855.0" y2="680.7"/>
<line class="k" x1="776.7" y1="687.4" x2="855.0" y2="687.4"/>
<line class="k" x1="776.7" y1="693.0" x2="855.0" y2="693.0"/>
<line class="k" x1="776.7" y1="698.6" x2="855.0" y2="698.6"/>
<line class="k" x1="855.0" y1="656.7" x2="998.4" y2="656.7"/>
<line class="k" x1="855.0" y1="686.7" x2="998.4" y2="686.7"/>
<line class="k" x1="938.5" y1="656.7" x2="938.5" y2="704.5"/>
<line class="t" x1="938.5" y1="662.2" x2="998.4" y2="662.2"/>
<line class="t" x1="938.5" y1="680.2" x2="998.4" y2="680.2"/>
<line class="t" x1="944.8" y1="662.2" x2="944.8" y2="680.2"/>
<line class="t" x1="950.2" y1="662.2" x2="950.2" y2="680.2"/>
<line class="k" x1="956.5" y1="656.7" x2="956.5" y2="680.2"/>
<line class="k" x1="977.2" y1="656.7" x2="977.2" y2="680.2"/>
<line class="t" x1="961.7" y1="680.2" x2="961.7" y2="686.7"/>
<line class="t" x1="980.0" y1="680.2" x2="980.0" y2="686.7"/>
<text class="tb" x="927" y="651.3" font-size="7.6" text-anchor="middle">ДМ 547 – 10.00 СБ</text>
<text class="tb" x="896.5" y="667.3" font-size="6.8" text-anchor="middle">Редуктор</text>
<text class="tb" x="896.5" y="676.5" font-size="6.8" text-anchor="middle">волновой</text>
<text class="tb" x="968" y="694" font-size="5.6" text-anchor="middle">МГТУ им Н.Э.Баумана</text>
<text class="tb" x="970" y="701.5" font-size="5.6" text-anchor="middle">Группа МТ12-61</text>
<text class="ts" x="947.5" y="661" font-size="3.6" text-anchor="middle">Лит.</text>
<text class="ts" x="966.8" y="661" font-size="3.6" text-anchor="middle">Масса</text>
<text class="ts" x="987.5" y="661" font-size="3.6" text-anchor="middle">Масштаб</text>
<text class="ts" x="988" y="673" font-size="4.2" text-anchor="middle">1:1</text>
<text class="ts" x="941.5" y="673" font-size="4.2" text-anchor="middle">У</text>
<text class="ts" x="944" y="685.4" font-size="3.6" text-anchor="middle">Лист</text>
<text class="ts" x="957.5" y="685.4" font-size="3.6" text-anchor="middle">2</text>
<text class="ts" x="971" y="685.4" font-size="3.6" text-anchor="middle">Листов</text>
<text class="ts" x="989" y="685.4" font-size="3.6" text-anchor="middle">1</text>
<text class="ts" x="781" y="667.4" font-size="3.6" text-anchor="middle">Изм</text>
<text class="ts" x="791.5" y="667.4" font-size="3.6" text-anchor="middle">Лист</text>
<text class="ts" x="811" y="667.4" font-size="3.6" text-anchor="middle">№ докум.</text>
<text class="ts" x="834" y="667.4" font-size="3.6" text-anchor="middle">Подп.</text>
<text class="ts" x="849" y="667.4" font-size="3.6" text-anchor="middle">Дата</text>
<text class="ts" x="778" y="673.4" font-size="3.6" text-anchor="start">Разраб.</text>
<text class="ts" x="778" y="679.5" font-size="3.6" text-anchor="start">Пров.</text>
<text class="ts" x="778" y="686" font-size="3.6" text-anchor="start">Т.контр.</text>
<text class="ts" x="778" y="691.8" font-size="3.6" text-anchor="start">Н.контр.</text>
<text class="ts" x="778" y="697.4" font-size="3.6" text-anchor="start">Утв.</text>
<text class="ts" x="778" y="703" font-size="3.6" text-anchor="start">Утв.</text>
<text class="ts" x="799" y="673.4" font-size="3.6" text-anchor="start">Иванов</text>
<text class="ts" x="799" y="679.5" font-size="3.6" text-anchor="start">Иванов</text>
</svg>
</body></html>
